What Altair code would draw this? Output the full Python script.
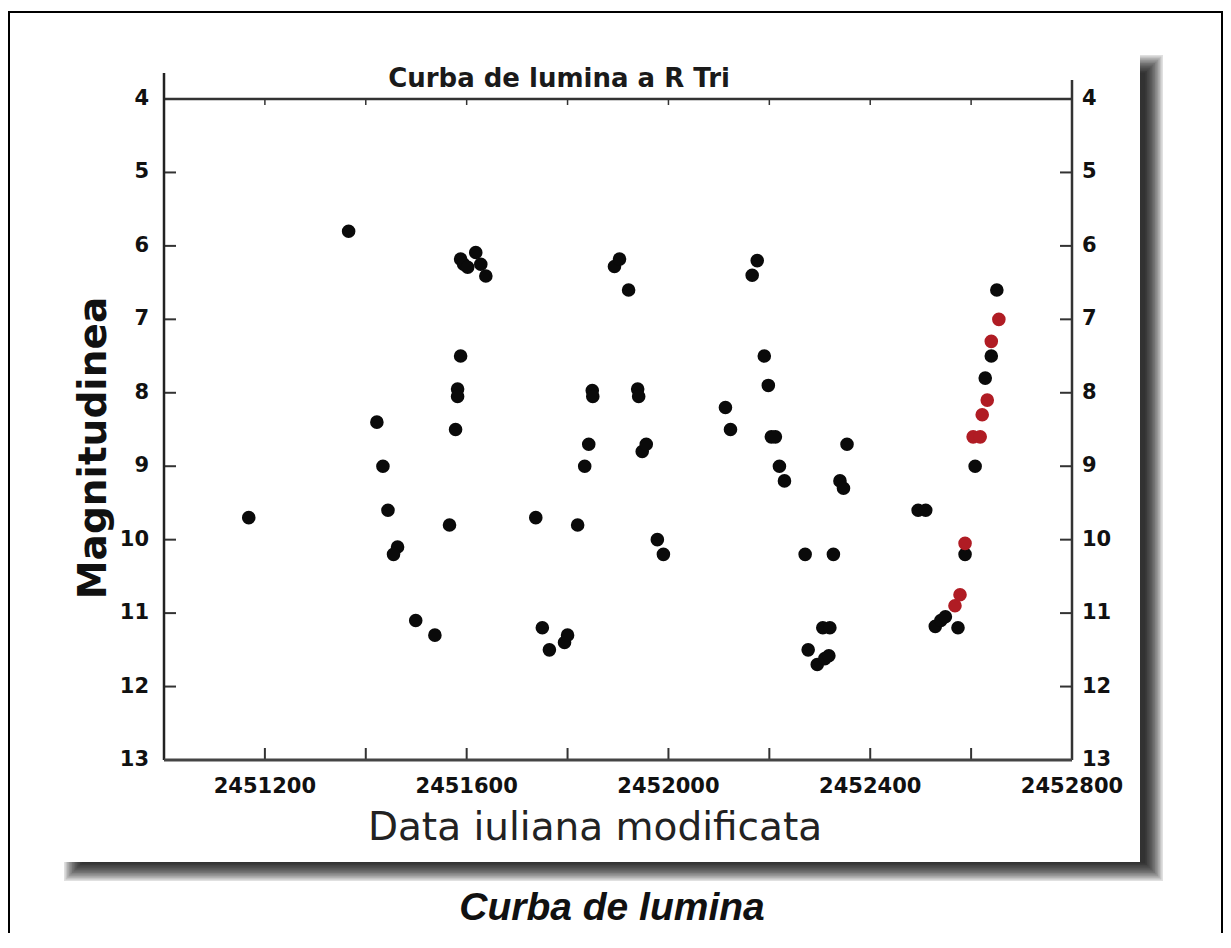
import altair as alt
import pandas as pd

# ---- data ----
black_jd = [2451168, 2451366, 2451422, 2451434, 2451444, 2451463, 2451455, 2451499,
            2451537, 2451566, 2451578, 2451582, 2451582, 2451588, 2451588, 2451594,
            2451602, 2451618, 2451628, 2451638, 2451737, 2451750, 2451764, 2451794,
            2451800, 2451820, 2451834, 2451842, 2451849, 2451850, 2451893, 2451903,
            2451921, 2451939, 2451941, 2451948, 2451956, 2451978, 2451990, 2452113,
            2452123, 2452166, 2452176, 2452190, 2452198, 2452204, 2452212, 2452220,
            2452230, 2452271, 2452277, 2452295, 2452310, 2452318, 2452306, 2452320,
            2452327, 2452354, 2452340, 2452347, 2452495, 2452510, 2452529, 2452540,
            2452549, 2452574, 2452588, 2452608, 2452628, 2452640, 2452651]
black_mag = [9.7, 5.8, 8.4, 9.0, 9.6, 10.1, 10.2, 11.1,
             11.3, 9.8, 8.5, 7.95, 8.05, 7.5, 6.18, 6.25,
             6.29, 6.09, 6.25, 6.41, 9.7, 11.2, 11.5, 11.4,
             11.3, 9.8, 9.0, 8.7, 7.97, 8.05, 6.28, 6.18,
             6.6, 7.95, 8.05, 8.8, 8.7, 10.0, 10.2, 8.2,
             8.5, 6.4, 6.2, 7.5, 7.9, 8.6, 8.6, 9.0,
             9.2, 10.2, 11.5, 11.7, 11.62, 11.58, 11.2, 11.2,
             10.2, 8.7, 9.2, 9.3, 9.6, 9.6, 11.18, 11.1,
             11.05, 11.2, 10.2, 9.0, 7.8, 7.5, 6.6]

red_jd = [2452568, 2452578, 2452588, 2452604, 2452618, 2452622, 2452632, 2452640, 2452655]
red_mag = [10.9, 10.75, 10.05, 8.6, 8.6, 8.3, 8.1, 7.3, 7.0]

y_ticks = [4, 5, 6, 7, 8, 9, 10, 11, 12, 13]
x_ticks = [2451200, 2451400, 2451600, 2451800, 2452000, 2452200, 2452400, 2452600]
x_labels = [2451200, 2451600, 2452000, 2452400, 2452800]

title_text = "Curba de lumina a R Tri"
x_title = "Data iuliana modificata"
y_title = "Magnitudinea"
caption = "Curba de lumina"

# ---- tables ----
df = pd.DataFrame({
    "jd": black_jd + red_jd,
    "mag": black_mag + red_mag,
    "series": ["black"] * len(black_jd) + ["red"] * len(red_jd),
})
ytick_df = pd.DataFrame({"v": y_ticks})
xtick_df = pd.DataFrame({"t": x_ticks})
xlab_df = pd.DataFrame({"t": x_labels})
one = alt.Data(values=[{"a": 0}])

W, H = 908, 661
xscale = alt.Scale(domain=[2451000, 2452800], nice=False, zero=False)
yscale = alt.Scale(domain=[4, 13], reverse=True, nice=False, zero=False)
LINE = "#333333"
LAB = dict(font="DejaVu Sans", fontWeight="bold", fontSize=21, color="#111")

# frame around the whole picture
border = alt.Chart(one).mark_rect(fill="white", stroke="black", strokeWidth=2).encode(
    x=alt.value(-155), x2=alt.value(1058), y=alt.value(-87), y2=alt.value(900))

# soft shadow of the card
shadows = []
for k in range(12):
    shadows.append(alt.Chart(one).mark_rect(color="black", opacity=0.12).encode(
        x=alt.value(-100 + 1.6 * k), x2=alt.value(999 - 1.6 * k),
        y=alt.value(-44 + 1.6 * k), y2=alt.value(782 - 1.6 * k)))

card = alt.Chart(one).mark_rect(color="white").encode(
    x=alt.value(-134), x2=alt.value(976), y=alt.value(-74), y2=alt.value(763))

# inward ticks
left_ticks = alt.Chart(ytick_df).mark_rule(color=LINE, strokeWidth=2).encode(
    y=alt.Y("v:Q", scale=yscale, axis=None), x=alt.value(0), x2=alt.value(12))
right_ticks = alt.Chart(ytick_df).mark_rule(color=LINE, strokeWidth=2).encode(
    y=alt.Y("v:Q", scale=yscale, axis=None), x=alt.value(W - 12), x2=alt.value(W))
bottom_ticks = alt.Chart(xtick_df).mark_rule(color=LINE, strokeWidth=2).encode(
    x=alt.X("t:Q", scale=xscale, axis=None), y=alt.value(H - 12), y2=alt.value(H))
top_ticks = alt.Chart(xtick_df).mark_rule(color=LINE, strokeWidth=1.5).encode(
    x=alt.X("t:Q", scale=xscale, axis=None), y=alt.value(0), y2=alt.value(6))

# frame lines
top_line = alt.Chart(one).mark_rule(color=LINE, strokeWidth=2.5).encode(
    x=alt.value(0), x2=alt.value(W), y=alt.value(0))
right_line = alt.Chart(one).mark_rule(color=LINE, strokeWidth=2.5).encode(
    x=alt.value(W), y=alt.value(-19), y2=alt.value(H))
left_line = alt.Chart(one).mark_rule(color="#222", strokeWidth=2.5).encode(
    x=alt.value(0), y=alt.value(-26), y2=alt.value(H))
bottom_line = alt.Chart(one).mark_rule(color="#444", strokeWidth=3).encode(
    x=alt.value(0), x2=alt.value(W), y=alt.value(H))

# tick labels
left_labels = alt.Chart(ytick_df).mark_text(
    align="right", baseline="middle", dx=-15, **LAB).encode(
    y=alt.Y("v:Q", scale=yscale, axis=None), x=alt.value(0), text=alt.Text("v:Q", format="d"))
right_labels = alt.Chart(ytick_df).mark_text(
    align="left", baseline="middle", dx=10, **LAB).encode(
    y=alt.Y("v:Q", scale=yscale, axis=None), x=alt.value(W), text=alt.Text("v:Q", format="d"))
bottom_labels = alt.Chart(xlab_df).mark_text(
    align="center", baseline="top", dy=16, **LAB).encode(
    x=alt.X("t:Q", scale=xscale, axis=None), y=alt.value(H), text=alt.Text("t:Q", format="d"))

points = alt.Chart(df).mark_circle(size=185, opacity=1).encode(
    x=alt.X("jd:Q", scale=xscale, axis=None),
    y=alt.Y("mag:Q", scale=yscale, axis=None),
    color=alt.Color("series:N", legend=None,
                    scale=alt.Scale(domain=["black", "red"], range=["#0a0a0a", "#b01c24"])),
)

title_mark = alt.Chart(one).mark_text(
    text=title_text, font="DejaVu Sans", fontWeight="bold", fontSize=26,
    color="#1a1a1a", align="center", baseline="alphabetic").encode(
    x=alt.value(395), y=alt.value(-12))
xtitle_mark = alt.Chart(one).mark_text(
    text=x_title, font="DejaVu Sans", fontSize=39, color="#222",
    align="center", baseline="alphabetic").encode(x=alt.value(431), y=alt.value(741))
ytitle_mark = alt.Chart(one).mark_text(
    text=y_title, font="DejaVu Sans", fontWeight="bold", fontSize=39, color="#111",
    align="center", baseline="middle", angle=270).encode(x=alt.value(-70), y=alt.value(349))
caption_mark = alt.Chart(one).mark_text(
    text=caption, font="Liberation Sans", fontWeight="bold", fontStyle="italic",
    fontSize=39, color="#111", align="center", baseline="alphabetic").encode(
    x=alt.value(448), y=alt.value(821))

chart = alt.layer(
    border, *shadows, card,
    left_ticks, right_ticks, bottom_ticks, top_ticks,
    top_line, right_line, left_line, bottom_line,
    left_labels, right_labels, bottom_labels,
    points, title_mark, xtitle_mark, ytitle_mark, caption_mark,
).properties(
    width=W, height=H,
    autosize=alt.AutoSizeParams(type="none"),
    padding={"left": 156, "top": 91, "right": 151, "bottom": 173},
).configure_view(strokeWidth=0).configure(background="white")

chart.save("out.html", embed_options={"renderer": "svg", "actions": False})
